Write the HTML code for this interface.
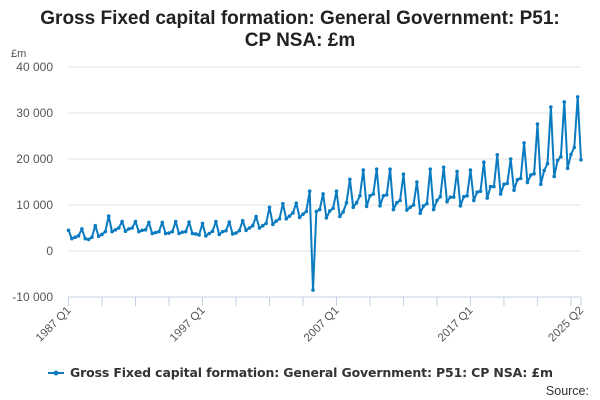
<!DOCTYPE html>
<html><head><meta charset="utf-8"><style>
body{margin:0;background:#fff;font-family:"Liberation Sans",sans-serif;}
svg{display:block}
</style></head><body>
<svg id="chart" width="600" height="400">
<text x="300" y="24" text-anchor="middle" font-size="19" font-weight="bold" fill="#222">Gross Fixed capital formation: General Government: P51:</text>
<text x="300" y="46" text-anchor="middle" font-size="19" font-weight="bold" fill="#222">CP NSA: £m</text>
<text x="11" y="57" font-size="11" fill="#555">£m</text>
<g id="grid"></g><g id="xaxis"></g><g id="series"></g>
<g>
<line x1="48" y1="373" x2="64" y2="373" stroke="#0a7bc1" stroke-width="2"/>
<circle cx="56" cy="373" r="2.5" fill="#0a7bc1"/>
<text x="70" y="377" font-size="12.5" font-weight="bold" fill="#333" textLength="483" style="font-family:'DejaVu Sans',sans-serif">Gross Fixed capital formation: General Government: P51: CP NSA: £m</text>
</g>
<text x="589" y="395" text-anchor="end" font-size="12.5" fill="#333">Source:</text>
</svg>
<script>
const years=[1987,1988,1989,1990,1991,1992,1993,1994,1995,1996,1997,1998,1999,2000,2001,2002,2003,2004,2005,2006,2007,2008,2009,2010,2011,2012,2013,2014,2015,2016,2017,2018,2019,2020,2021,2022,2023,2024,2025];
const quarterValues=[
4500,2700,3000,3300, 4800,2700,2500,3000, 5500,3200,3600,4200, 7600,4200,4600,5000,
6400,4300,4800,5000, 6400,4200,4500,4600, 6200,3800,4000,4200, 6200,3800,3900,4200,
6400,3800,4100,4200, 6300,3800,3700,3500, 6000,3300,3800,4300, 6400,3600,4200,4400,
6300,3700,3900,4400, 6600,4500,5000,5500, 7500,5000,5500,6000, 9500,5800,6500,7000,
10300,7000,7600,8300, 10400,7300,8000,8600, 13000,-8500,8600,9000, 12400,7200,8700,9300,
13000,7500,8500,10500, 15600,9500,10500,12000, 17600,9700,12000,12400, 17800,9800,12000,12200,
17800,9000,10500,11000, 16700,8900,9500,10000, 15000,8200,9800,10300, 17800,9000,11000,11800,
18200,10700,11700,11700, 17300,9800,11800,12000, 17600,11000,12800,13000, 19300,11500,14000,14000,
20900,12400,14500,14700, 20000,13200,15500,15800, 23500,14900,16500,16800, 27600,14500,17500,19000,
31300,16200,19700,20500, 32400,18000,21000,22500, 33500,19800];
const yTicks=[40000,30000,20000,10000,0,-10000];
const yTickLabels=["40 000","30 000","20 000","10 000","0","-10 000"];
const xLabels=["1987 Q1","1997 Q1","2007 Q1","2017 Q1","2025 Q2"];
const xLabelIndex=[0,40,80,120,153];

const NS="http://www.w3.org/2000/svg";
const x0=68.5,x1=581,yTop=67,yBot=297,vMax=40000,vMin=-10000;
const n=quarterValues.length;
const xs=i=>x0+(x1-x0)*i/(n-1);
const ys=v=>yTop+(vMax-v)/(vMax-vMin)*(yBot-yTop);
function mk(t,a,p){const e=document.createElementNS(NS,t);for(const k in a)e.setAttribute(k,a[k]);p.appendChild(e);return e;}
const grid=document.getElementById('grid');
yTicks.forEach((v,i)=>{
 const last=i===yTicks.length-1;
 const l=mk('line',{x1:68,x2:581,y1:ys(v),y2:ys(v),stroke:last?'#c5d0e6':'#e3e3e3','stroke-width':1},grid);
 
 
 const t=mk('text',{x:53,y:ys(v)+4,'text-anchor':'end','font-size':12,fill:'#555'},grid);
 t.textContent=yTickLabels[i];
 
 
});
const xa=document.getElementById('xaxis');
for(let i=0;i<n;i+=10){
 const l=mk('line',{x1:xs(i),x2:xs(i),y1:297,y2:306,stroke:'#c5d0e6'},xa);
 
 
}
const lt=mk('line',{x1:xs(n-1),x2:xs(n-1),y1:297,y2:306,stroke:'#c5d0e6'},xa);


xLabels.forEach((s,k)=>{
 const x=xs(xLabelIndex[k]);
 const t=mk('text',{x:x+3,y:311,'text-anchor':'end','font-size':11.5,fill:'#555',transform:`rotate(-45 ${x+3} 311)`},xa);
 t.textContent=s;
 
 
});
const sg=document.getElementById('series');
const pts=quarterValues.map((v,i)=>xs(i).toFixed(1)+','+ys(v).toFixed(1)).join(' ');
const pl=mk('polyline',{points:pts,fill:'none',stroke:'#0a7bc1','stroke-width':2,'stroke-linejoin':'round'},sg);


quarterValues.forEach((v,i)=>{
 const c=mk('circle',{cx:xs(i),cy:ys(v),r:1.8,fill:'#0a7bc1'},sg);
 
 
});
</script>
</body></html>
